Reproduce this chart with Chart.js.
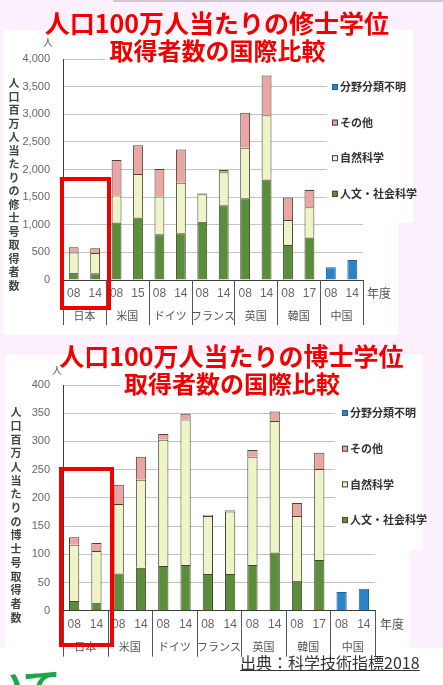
<!DOCTYPE html>
<html>
<head>
<meta charset="utf-8">
<script src="https://cdn.jsdelivr.net/npm/chart.js@4.4.1/dist/chart.umd.min.js"></script>
<style>
	body {
		margin: 0;
		width: 443px;
		height: 685px;
		background: #fcf0fc;
		position: relative;
		overflow: hidden;
		font-family: "Noto Sans CJK JP", sans-serif;
	}
	.panel { position: absolute; background: #fff; }
	canvas { position: absolute; left: 0; }
	.title {
		position: absolute;
		color: #f20000;
		font-weight: bold;
		text-align: center;
		white-space: nowrap;
	}
	.redbox {
		position: absolute;
		box-sizing: border-box;
		border: 4px solid #f20000;
	}
</style>
</head>
<body>
<div class="panel" style="left:113px;top:0;width:330px;height:2px;background:#d3c4d3"></div>
<div class="panel" style="left:3px;top:30px;width:395px;height:305px"></div>
<div class="panel" style="left:398px;top:30px;width:15px;height:193px"></div>
<div class="panel" style="left:5px;top:355px;width:405px;height:295px"></div>
<div class="panel" style="left:410px;top:355px;width:13px;height:195px"></div>
<div class="panel" style="left:0;top:648px;width:443px;height:37px"></div>

<canvas id="master" width="443" height="340" style="top:0"></canvas>
<canvas id="doctor" width="443" height="330" style="top:340px"></canvas>

<div class="title" style="left:0;width:434px;top:7px;font-size:25px;line-height:30px">人口100万人当たりの修士学位</div>
<div class="title" style="left:105px;width:225px;top:37px;height:26px;font-size:24px;line-height:25px;background:#fff">取得者数の国際比較</div>
<div class="title" style="left:0;width:463px;top:340px;font-size:25px;line-height:30px">人口100万人当たりの博士学位</div>
<div class="title" style="left:120px;width:224px;top:370px;height:26px;font-size:24px;line-height:26px;background:#fff">取得者数の国際比較</div>

<div class="redbox" style="left:60px;top:177px;width:51px;height:133px"></div>
<div class="redbox" style="left:59px;top:467px;width:55px;height:180px"></div>

<div style="position:absolute;left:240px;top:650px;font-size:16px;line-height:24px;color:#333;text-decoration:underline;white-space:nowrap">出典：科学技術指標2018</div>
<div style="position:absolute;left:-14px;top:664px;font-size:38px;line-height:40px;font-weight:bold;color:#1fa64a;white-space:nowrap">いて</div>

<script>
const countries = ['日本', '米国', 'ドイツ', 'フランス', '英国', '韓国', '中国'];
const masterYears = ['08', '14', '08', '15', '08', '14', '08', '14', '08', '14', '08', '17', '08', '14'];
const doctorYears = ['08', '14', '08', '14', '08', '14', '08', '14', '08', '14', '08', '17', '08', '14'];

const seriesNames = ['人文・社会科学', '自然科学', 'その他', '分野分類不明'];
const seriesColors = ['#5b8e3b', '#eef4c6', '#e9a6a4', '#2c83c6'];

// 修士 (人口百万人当たり)
const masterHumanities = [130, 120, 1040, 1130, 830, 845, 1055, 1355, 1480, 1820, 635, 770, null, null];
const masterNatural = [370, 370, 490, 790, 680, 915, 495, 595, 915, 1160, 450, 545, null, null];
const masterOther = [95, 85, 640, 520, 500, 600, 15, 40, 630, 720, 410, 315, null, null];
const masterUnknown = [null, null, null, null, null, null, null, null, null, null, null, null, 230, 360];

// 博士 (人口百万人当たり)
const doctorHumanities = [17, 14, 66, 76, 79, 81, 65, 65, 81, 103, 53, 90, null, null];
const doctorNatural = [100, 92, 123, 156, 224, 258, 103, 111, 192, 233, 115, 161, null, null];
const doctorOther = [13, 14, 34, 41, 10, 10, 2, 2, 12, 17, 23, 29, null, null];
const doctorUnknown = [null, null, null, null, null, null, null, null, null, null, null, null, 33, 39];

const jpFont = '"Noto Sans CJK JP", sans-serif';

// country groups, vertical title, unit, legend
const decor = {
	id: 'decor',
	afterDraw(chart, args, o) {
		const ctx = chart.ctx;
		const x = chart.scales.x;
		const a = chart.chartArea;
		const half = (x.getPixelForValue(1) - x.getPixelForValue(0)) / 2;
		ctx.save();

		ctx.strokeStyle = '#555';
		ctx.lineWidth = 1;
		for (let g = 0; g <= countries.length; g++) {
			const px = g === countries.length
				? x.getPixelForValue(2 * g - 1) + half
				: x.getPixelForValue(2 * g) - half;
			const sx = Math.round(px) + 0.5;
			ctx.beginPath();
			ctx.moveTo(sx, a.bottom);
			ctx.lineTo(sx, a.bottom + o.sepLen);
			ctx.stroke();
		}

		ctx.fillStyle = '#555';
		ctx.font = '11px ' + jpFont;
		ctx.textAlign = 'center';
		ctx.textBaseline = 'middle';
		countries.forEach((c, g) => {
			const cx = (x.getPixelForValue(2 * g) + x.getPixelForValue(2 * g + 1)) / 2;
			ctx.fillText(c, cx, a.bottom + o.countryY);
		});

		ctx.font = '12px ' + jpFont;
		ctx.textAlign = 'left';
		ctx.fillText('年度', a.right + o.yearGap, a.bottom + o.yearY);

		ctx.font = '10px ' + jpFont;
		ctx.textAlign = 'center';
		ctx.fillText('人', o.unitX, o.unitY);

		ctx.fillStyle = '#444';
		ctx.font = 'bold 11px ' + jpFont;
		[...o.yTitle].forEach((ch, i) => {
			ctx.fillText(ch, o.yTitleX, o.yTitleY + i * o.yTitleStep);
		});

		// legend sits on a white box over the grid
		ctx.fillStyle = '#fff';
		ctx.fillRect(o.legLeft, o.legTop, o.legRight - o.legLeft, o.legBottom - o.legTop);
		const sets = chart.data.datasets.slice().reverse();
		ctx.textAlign = 'left';
		ctx.font = 'bold 11px ' + jpFont;
		sets.forEach((ds, i) => {
			const ly = o.legY + i * o.legStep;
			ctx.fillStyle = ds.backgroundColor;
			ctx.fillRect(o.boxX - 3, ly - 3, 6, 6);
			ctx.strokeStyle = ds.borderColor;
			ctx.strokeRect(o.boxX - 2.5, ly - 2.5, 5, 5);
			ctx.fillStyle = '#333';
			ctx.fillText(ds.label, o.boxX + 5, ly);
		});
		ctx.restore();
	}
};

function createStackChart(place, years, values, o) {
	const ctx = place.getContext('2d');
	return new Chart(ctx, {
		type: 'bar',
		data: {
			labels: years,
			datasets: values.map((data, i) => ({
				label: seriesNames[i],
				data: data,
				backgroundColor: seriesColors[i],
				borderColor: i === 3 ? '#1f6299' : '#4b4232',
				borderWidth: 1,
				categoryPercentage: 1,
				barPercentage: 0.46,
			})),
		},
		options: {
			responsive: false,
			animation: false,
			devicePixelRatio: 1,
			layout: {
				padding: { left: 0, top: o.top, right: o.right, bottom: 0 }
			},
			plugins: {
				legend: { display: false },
				tooltip: { enabled: false },
				decor: o,
			},
			scales: {
				x: {
					stacked: true,
					afterFit: s => { s.height = o.xHeight },
					grid: { display: false, drawTicks: false },
					border: { color: '#3c3c3c' },
					ticks: {
						padding: o.tickPad,
						color: '#666',
						font: { family: 'Liberation Sans', size: 12 },
						maxRotation: 0,
						autoSkip: false,
					}
				},
				y: {
					stacked: true,
					min: 0,
					max: o.max,
					afterFit: s => { s.width = 63 },
					grid: { color: '#c4c4c4', drawTicks: false },
					border: { color: '#3c3c3c' },
					ticks: {
						stepSize: o.step,
						padding: 13,
						color: '#666',
						font: { family: 'Liberation Sans', size: 11 },
						callback: v => v.toLocaleString('en-US'),
					}
				}
			}
		},
		plugins: [decor]
	});
}

createStackChart(document.getElementById('master'), masterYears,
	[masterHumanities, masterNatural, masterOther, masterUnknown], {
		top: 59, right: 80, xHeight: 60, tickPad: 6, max: 4000, step: 500,
		sepLen: 45, countryY: 36, yearGap: 4, yearY: 13,
		unitX: 48, unitY: 42,
		yTitle: '人口百万人当たりの修士号取得者数', yTitleX: 14, yTitleY: 83, yTitleStep: 13.5,
		legLeft: 327, legRight: 413, legTop: 55, legBottom: 220,
		boxX: 335, legY: 87, legStep: 35.6,
	});

createStackChart(document.getElementById('doctor'), doctorYears,
	[doctorHumanities, doctorNatural, doctorOther, doctorUnknown], {
		top: 45, right: 68, xHeight: 59.3, tickPad: 7, max: 400, step: 50,
		sepLen: 46, countryY: 36, yearGap: 5, yearY: 14,
		unitX: 57, unitY: 30,
		yTitle: '人口百万人当たりの博士号取得者数', yTitleX: 16, yTitleY: 72, yTitleStep: 13.7,
		legLeft: 335, legRight: 423, legTop: 45, legBottom: 208,
		boxX: 345, legY: 73, legStep: 35.7,
	});
</script>
</body>
</html>
